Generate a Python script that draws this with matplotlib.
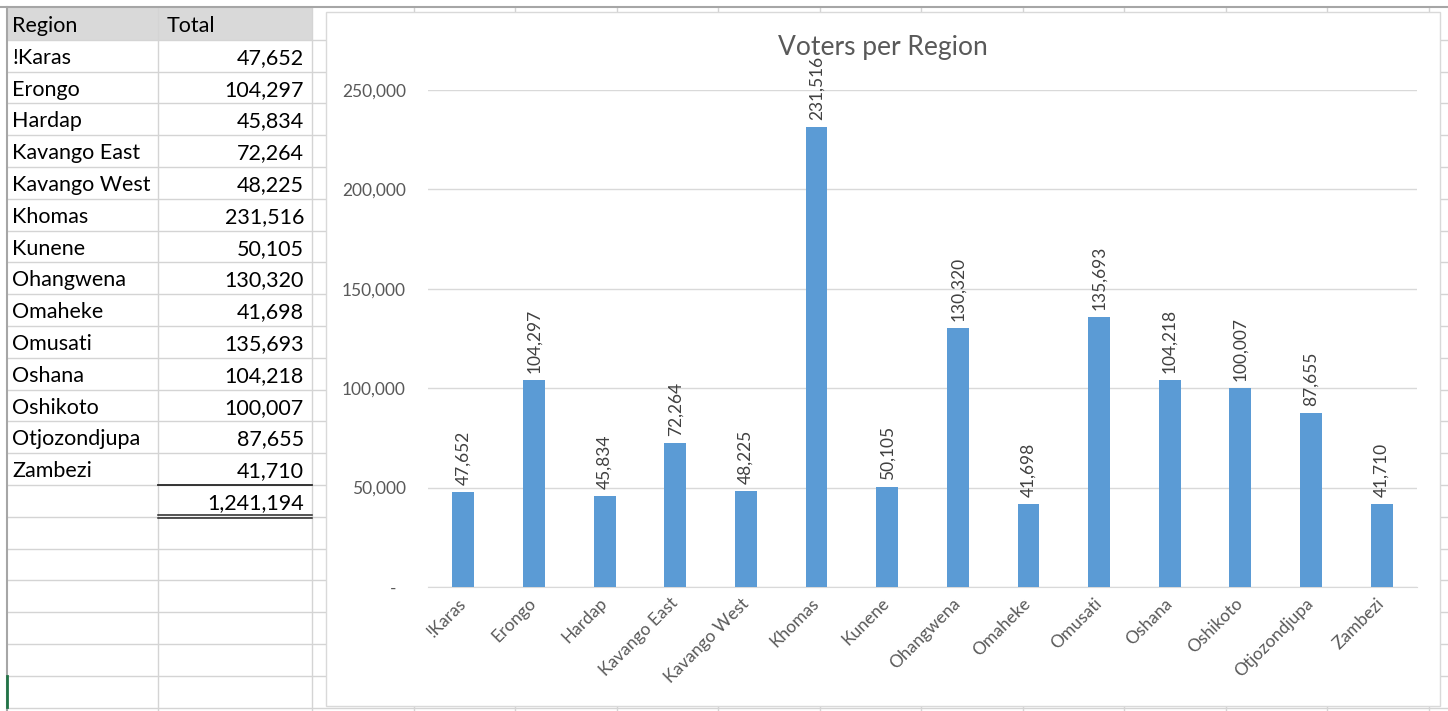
import matplotlib
matplotlib.use('Agg')
import matplotlib.pyplot as plt
from matplotlib.patches import Rectangle
from matplotlib.ticker import FuncFormatter

# --- data ---
regions = ['!Karas', 'Erongo', 'Hardap', 'Kavango East', 'Kavango West', 'Khomas',
           'Kunene', 'Ohangwena', 'Omaheke', 'Omusati', 'Oshana', 'Oshikoto',
           'Otjozondjupa', 'Zambezi']
totals = [47652, 104297, 45834, 72264, 48225, 231516, 50105, 130320, 41698,
          135693, 104218, 100007, 87655, 41710]
header = ['Region', 'Total']
chart_title = 'Voters per Region'

plt.rcParams['font.family'] = ['Lato', 'DejaVu Sans']

W, H = 1448, 711
fig = plt.figure(figsize=(W / 100, H / 100), dpi=100)

# --- spreadsheet background (pixel coordinates) ---
bg = fig.add_axes([0, 0, 1, 1])
bg.set_xlim(0, W)
bg.set_ylim(H, 0)
bg.axis('off')

grid_c = '#d4d4d4'
row_h = 31.8
col_x = [158, 312] + [312 + 101.5 * k for k in range(1, 12)]
row_y = [8 + row_h * k for k in range(1, 23)]

bg.add_patch(Rectangle((8, 8), 304, row_h, facecolor='#d9d9d9', edgecolor='none', zorder=0))
for x in col_x:
    bg.plot([x, x], [8, H], color=grid_c, lw=1, zorder=1)
for y in row_y:
    bg.plot([8, W], [y, y], color=grid_c, lw=1, zorder=1)
bg.plot([0, W], [7, 7], color='#a6a6a6', lw=1.5, zorder=2)
bg.plot([7, 7], [7, H], color='#a6a6a6', lw=1.5, zorder=2)
bg.plot([7, 7], [676, 707], color='#217346', lw=2, zorder=3)

# table text (baseline 24 px below the row top)
fs_tab = 15.5
base = 24
bg.text(12, 8 + base, header[0], ha='left', va='baseline', fontsize=fs_tab, color='black')
bg.text(167, 8 + base, header[1], ha='left', va='baseline', fontsize=fs_tab, color='black')
for i, (r, v) in enumerate(zip(regions, totals)):
    yb = 8 + row_h * (i + 1) + base
    bg.text(12, yb, r, ha='left', va='baseline', fontsize=fs_tab, color='black')
    bg.text(304, yb, f'{v:,}', ha='right', va='baseline', fontsize=fs_tab, color='black')

# total row with single line above and double line below
y_top = 8 + row_h * 15
bg.plot([158, 312], [y_top, y_top], color='#262626', lw=1.3, zorder=3)
bg.plot([158, 312], [y_top + row_h - 1.5, y_top + row_h - 1.5], color='#262626', lw=1.1, zorder=3)
bg.plot([158, 312], [y_top + row_h + 1.5, y_top + row_h + 1.5], color='#262626', lw=1.1, zorder=3)
bg.text(304, y_top + base, f'{sum(totals):,}', ha='right', va='baseline',
        fontsize=fs_tab, color='black')

# chart area
bg.add_patch(Rectangle((326, 12), 1440 - 326, 706 - 12, facecolor='white',
                       edgecolor='#d9d9d9', lw=1, zorder=5))
bg.text(883, 47, chart_title, ha='center', va='center', fontsize=19,
        color='#595959', zorder=6)

# --- bar chart ---
px0, px1, py_top, py_bot = 428, 1417, 90, 587
ax = fig.add_axes([px0 / W, 1 - py_bot / H, (px1 - px0) / W, (py_bot - py_top) / H])
ax.set_zorder(2)
ax.patch.set_alpha(0)

pos = list(range(len(regions)))
ax.bar(pos, totals, width=0.31, color='#5B9BD5', zorder=3)
for i, v in zip(pos, totals):
    ax.annotate(f'{v:,}', (i, v), xytext=(0, 5), textcoords='offset points',
                rotation=90, ha='center', va='bottom', fontsize=12.5,
                color='#404040', annotation_clip=False)

ax.set_xlim(-0.5, len(regions) - 0.5)
ax.set_ylim(0, 250000)
ax.set_yticks(range(0, 250001, 50000))
ax.yaxis.set_major_formatter(FuncFormatter(lambda v, p: f'{int(v):,}' if v else '-  '))
ax.yaxis.grid(True, color='#d9d9d9', lw=1)
ax.set_axisbelow(True)
for s in ['top', 'right', 'left']:
    ax.spines[s].set_visible(False)
ax.spines['bottom'].set_color('#d9d9d9')
ax.tick_params(axis='y', length=0, pad=16, labelsize=12.5, labelcolor='#595959')
ax.tick_params(axis='x', length=0, pad=10, labelsize=12.5, labelcolor='#595959')
ax.set_xticks(pos)
ax.set_xticklabels(regions, rotation=45, ha='right', va='center', rotation_mode='anchor')

fig.savefig('out.png', dpi=100)
